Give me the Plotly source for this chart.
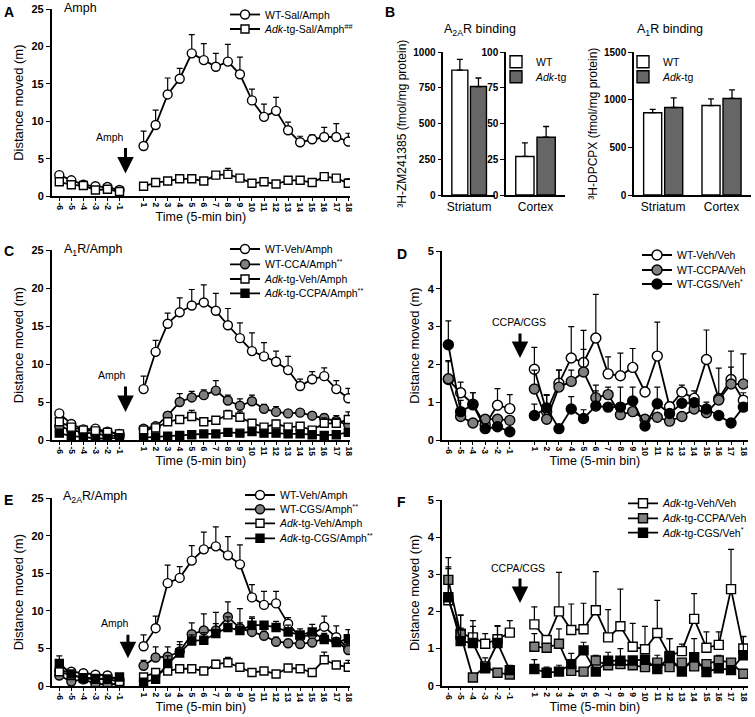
import plotly.graph_objects as go

# ---------------- data ----------------
BINS = [-6, -5, -4, -3, -2, -1, 1, 2, 3, 4, 5, 6, 7, 8, 9, 10, 11, 12, 13, 14, 15, 16, 17, 18]
BIN_LABELS = [str(b) for b in BINS]

# Panel A
A_WT = [2.8, 2.1, 1.5, 1.3, 1.2, 0.8, 6.7, 9.5, 13.6, 15.7, 19.1, 18.2, 17.3, 18.0, 16.3, 12.8, 10.6, 11.4, 8.8, 7.2, 7.6, 7.9, 7.9, 7.3]
A_WT_SEM = [0.3, 0.2, 0.2, 0.2, 0.2, 0.2, 2.0, 2.0, 2.2, 1.4, 2.5, 2.2, 1.8, 2.3, 2.3, 1.5, 1.7, 1.8, 1.1, 0.8, 0.6, 1.3, 1.8, 1.1]
A_TG = [1.9, 1.5, 1.4, 0.8, 0.9, 0.6, 1.3, 1.8, 2.0, 2.3, 2.3, 2.0, 2.8, 2.9, 2.4, 1.7, 1.9, 1.6, 2.1, 2.1, 1.8, 2.6, 2.4, 1.7]
A_TG_SEM = [0.2, 0.2, 0.2, 0.2, 0.2, 0.2, 0.3, 0.3, 0.3, 0.3, 0.3, 0.3, 0.4, 0.8, 0.3, 0.3, 0.3, 0.3, 0.3, 0.3, 0.3, 0.3, 0.3, 0.6]

# Panel B
B_REGIONS = ["Striatum", "Cortex"]
A2A_WT = [875, 27]
A2A_WT_SEM = [75, 9.5]
A2A_TG = [760, 40.5]
A2A_TG_SEM = [60, 7.5]
A1_WT = [865, 940]
A1_WT_SEM = [35, 70]
A1_TG = [920, 1015]
A1_TG_SEM = [100, 90]

# Panel C
C_WT = [3.5, 2.1, 1.4, 1.5, 1.1, 0.8, 6.7, 11.6, 15.3, 16.8, 17.7, 18.1, 17.0, 15.1, 13.4, 11.7, 11.0, 10.3, 9.2, 7.1, 8.0, 8.4, 6.7, 5.5]
C_WT_SEM = [0.3, 0.2, 0.2, 0.2, 0.2, 0.2, 1.7, 1.5, 1.4, 1.9, 2.1, 2.3, 2.3, 2.2, 2.0, 2.4, 1.8, 1.4, 1.8, 0.9, 1.0, 1.1, 1.1, 1.3]
C_CCA = [1.8, 1.3, 1.0, 0.8, 0.6, 0.5, 1.5, 1.8, 3.2, 5.0, 5.6, 5.9, 6.5, 5.2, 4.5, 5.1, 4.1, 3.7, 3.5, 3.6, 3.2, 2.9, 2.5, 2.0]
C_CCA_SEM = [0.3, 0.2, 0.2, 0.2, 0.2, 0.2, 0.3, 0.3, 0.4, 1.1, 0.8, 0.7, 1.3, 0.7, 0.9, 0.8, 0.6, 0.7, 0.3, 0.3, 0.4, 0.5, 0.7, 0.5]
C_TG = [2.4, 1.7, 1.3, 1.2, 1.0, 0.8, 1.3, 1.6, 2.4, 2.7, 3.1, 2.4, 2.6, 3.3, 3.0, 2.2, 1.7, 2.1, 1.7, 1.8, 1.3, 2.2, 2.2, 2.7]
C_TG_SEM = [0.3, 0.2, 0.2, 0.2, 0.2, 0.2, 0.3, 0.3, 0.3, 0.3, 0.8, 0.3, 0.3, 0.6, 0.7, 0.3, 0.3, 0.5, 0.3, 0.3, 0.3, 0.7, 0.6, 1.0]
C_TGCCPA = [0.9, 0.5, 0.4, 0.2, 0.2, 0.3, 0.3, 0.4, 0.5, 0.6, 0.7, 0.8, 0.8, 1.0, 0.9, 1.1, 0.9, 0.9, 0.8, 0.8, 0.7, 0.6, 0.7, 1.0]
C_TGCCPA_SEM = [0.2, 0.2, 0.2, 0.2, 0.2, 0.2, 0.2, 0.2, 0.2, 0.2, 0.2, 0.2, 0.2, 0.2, 0.2, 0.2, 0.2, 0.2, 0.2, 0.2, 0.2, 0.2, 0.2, 0.2]

# Panel D
D_VEH = [1.6, 1.25, 0.95, 0.4, 0.92, 0.83, 1.87, 0.75, 1.5, 2.17, 2.05, 2.7, 1.75, 1.7, 1.92, 1.27, 2.22, 0.88, 1.27, 1.1, 2.13, 1.1, 1.6, 1.05]
D_VEH_SEM = [0.5, 0.28, 0.3, 0.2, 0.44, 0.37, 0.58, 0.45, 0.35, 0.83, 0.85, 1.15, 0.45, 0.6, 0.5, 0.13, 0.9, 0.12, 0.18, 0.2, 0.78, 0.8, 0.75, 0.2]
D_CCPA = [1.62, 0.62, 0.45, 0.55, 0.55, 0.52, 1.35, 0.55, 1.4, 1.55, 1.8, 1.12, 1.2, 0.67, 0.75, 0.55, 0.6, 0.5, 0.62, 0.82, 0.72, 1.06, 1.48, 1.48]
D_CCPA_SEM = [0.45, 0.1, 0.1, 0.1, 0.1, 0.1, 0.5, 0.1, 0.45, 0.3, 0.6, 0.33, 0.2, 0.1, 0.1, 0.1, 0.1, 0.1, 0.1, 0.1, 0.1, 0.15, 0.45, 0.8]
D_CGS = [2.52, 0.75, 0.93, 0.3, 0.35, 0.22, 0.65, 0.85, 0.3, 0.82, 0.57, 0.9, 0.87, 0.87, 1.03, 0.37, 0.96, 0.7, 0.97, 0.99, 0.82, 0.65, 0.45, 0.87]
D_CGS_SEM = [0.63, 0.3, 0.32, 0.1, 0.1, 0.1, 0.3, 0.33, 0.1, 0.33, 0.23, 0.4, 0.1, 0.53, 0.37, 0.1, 0.44, 0.1, 0.1, 0.1, 0.18, 0.1, 0.1, 0.1]

# Panel E
E_WT = [2.0, 1.9, 1.7, 1.5, 1.4, 0.8, 5.3, 7.7, 13.7, 14.4, 16.7, 18.2, 18.6, 17.4, 16.2, 11.8, 10.8, 11.0, 8.3, 6.5, 6.9, 7.9, 6.5, 5.0]
E_WT_SEM = [0.3, 0.2, 0.2, 0.2, 0.2, 0.2, 1.5, 1.6, 2.4, 1.5, 2.0, 2.3, 2.6, 2.5, 2.6, 1.7, 1.8, 1.6, 0.8, 0.6, 0.7, 1.4, 1.5, 0.6]
E_CGS = [1.4, 0.6, 0.9, 0.3, 0.2, 0.3, 2.7, 3.8, 3.9, 4.6, 6.9, 7.4, 7.4, 9.2, 7.7, 7.2, 6.7, 5.9, 5.7, 5.6, 5.8, 6.3, 5.9, 4.8]
E_CGS_SEM = [0.3, 0.2, 0.2, 0.2, 0.2, 0.2, 0.7, 1.4, 1.3, 1.3, 1.5, 2.2, 2.4, 2.0, 2.6, 1.8, 0.6, 0.6, 0.5, 0.5, 0.5, 0.6, 0.5, 0.4]
E_TG = [1.9, 1.4, 1.1, 1.0, 0.9, 0.6, 1.2, 1.8, 2.0, 2.3, 2.3, 2.0, 2.9, 3.1, 2.5, 1.8, 2.0, 1.6, 2.4, 2.3, 1.8, 3.5, 2.8, 2.5]
E_TG_SEM = [0.2, 0.2, 0.2, 0.2, 0.2, 0.2, 0.3, 0.3, 0.3, 0.3, 0.3, 0.3, 0.5, 0.7, 0.3, 0.3, 0.3, 0.3, 0.3, 0.3, 0.3, 1.0, 0.4, 0.9]
E_TGCGS = [3.0, 1.6, 1.0, 0.9, 0.9, 1.2, 0.5, 0.9, 3.0, 4.4, 6.0, 6.1, 7.0, 7.8, 7.4, 8.1, 8.1, 7.8, 7.2, 6.8, 7.2, 6.2, 5.8, 6.3]
E_TGCGS_SEM = [1.0, 0.3, 0.2, 0.2, 0.2, 0.2, 0.3, 0.3, 1.0, 1.1, 0.8, 1.0, 1.3, 1.4, 1.0, 1.1, 0.3, 0.8, 0.9, 0.8, 1.0, 0.8, 0.6, 1.2]

# Panel F
F_VEH = [2.3, 1.4, 1.3, 1.13, 1.25, 1.43, 1.65, 1.23, 2.0, 1.5, 1.52, 2.03, 1.3, 1.6, 1.05, 0.98, 1.42, 0.8, 0.93, 1.8, 1.02, 1.1, 2.6, 1.0]
F_VEH_SEM = [0.85, 0.5, 0.45, 0.27, 0.35, 0.32, 0.47, 0.12, 1.05, 0.7, 0.7, 1.04, 0.75, 1.0, 0.63, 0.62, 0.88, 0.47, 0.19, 0.68, 0.43, 0.35, 1.07, 0.33]
F_CCPA = [2.85, 1.38, 0.22, 0.52, 0.35, 0.3, 1.05, 1.02, 1.13, 0.4, 0.38, 0.68, 0.55, 0.58, 0.55, 0.5, 0.62, 0.5, 0.62, 0.52, 0.58, 0.68, 0.62, 0.32]
F_CCPA_SEM = [0.6, 0.52, 0.05, 0.23, 0.05, 0.05, 0.35, 0.1, 0.4, 0.05, 0.05, 0.14, 0.1, 0.1, 0.1, 0.1, 0.2, 0.1, 0.1, 0.1, 0.1, 0.14, 0.1, 0.05]
F_CGS = [2.38, 1.2, 1.15, 0.47, 1.15, 0.42, 0.45, 0.35, 0.38, 0.58, 0.95, 0.38, 0.67, 0.67, 0.68, 0.7, 0.45, 0.77, 0.38, 0.77, 0.37, 0.47, 0.42, 0.82]
F_CGS_SEM = [0.82, 0.35, 0.45, 0.1, 0.47, 0.13, 0.25, 0.15, 0.17, 0.29, 0.22, 0.1, 0.23, 0.33, 0.1, 0.1, 0.1, 0.5, 0.1, 0.5, 0.1, 0.1, 0.1, 0.5]

# ---------------- helpers ----------------
W, H = 755, 717
FONT = "Liberation Sans, Arial, sans-serif"
GREY = "#808080"
GAP = 0  # empty slot between pre- and post-injection bins
LEGFONT = dict(family=FONT, size=10.5, color="black")


def px_x(p):
    return p / W


def px_y(p):
    return 1 - p / H


# one legend box per legend row so the rows can sit as close as in the original
legends = {}


def legend_row(left, center):
    key = "legend" if not legends else "legend%d" % (len(legends) + 1)
    legends[key] = dict(x=px_x(left), y=min(1.0, px_y(center - 14.5)), xanchor="left", yanchor="top",
                        font=LEGFONT, bgcolor="rgba(0,0,0,0)", borderwidth=0, itemwidth=30)
    return key


def ts(vals, sem, name, symbol, fill, xa, ya, legend, size):
    y = vals[:6] + [None] + vals[6:]
    e = sem[:6] + [0] + sem[6:]
    x = BINS[:6] + [GAP] + BINS[6:]
    return go.Scatter(
        x=x, y=y, mode="lines+markers", name=name, xaxis=xa, yaxis=ya, legend=legend,
        connectgaps=False, showlegend=True,
        line=dict(color="black", width=1.8),
        marker=dict(symbol=symbol, size=size, color=fill, line=dict(color="black", width=1.4)),
        error_y=dict(type="data", symmetric=False, array=e, arrayminus=[0] * len(e),
                     color="black", thickness=1.2, width=3),
    )


fig = go.Figure()

# Panel A
fig.add_trace(ts(A_WT, A_WT_SEM, "WT-Sal/Amph", "circle", "white", "x", "y", legend_row(225, 14.5), 9))
fig.add_trace(ts(A_TG, A_TG_SEM, "<i>Adk</i>-tg-Sal/Amph<sup>##</sup>", "square", "white", "x", "y",
                 legend_row(225, 29), 8))


# Panel B bars
def bar(xv, yv, ev, name, color, xa, ya, legend, show):
    return go.Bar(x=xv, y=yv, name=name, xaxis=xa, yaxis=ya, legend=legend, showlegend=show,
                  marker=dict(color=color, line=dict(color="black", width=1.4)),
                  error_y=dict(type="data", symmetric=False, array=ev, arrayminus=[0] * len(ev),
                               color="black", thickness=1.3, width=3))


LB1 = legend_row(496, 61.7)
LB2 = legend_row(496, 76.7)
LB3 = legend_row(623, 61.7)
LB4 = legend_row(623, 76.7)
fig.add_trace(bar(B_REGIONS[:1], A2A_WT[:1], A2A_WT_SEM[:1], "WT", "white", "x2", "y2", LB1, False))
fig.add_trace(bar(B_REGIONS[:1], A2A_TG[:1], A2A_TG_SEM[:1], "<i>Adk</i>-tg", "#666666", "x2", "y2", LB2, False))
fig.add_trace(bar(B_REGIONS[1:], A2A_WT[1:], A2A_WT_SEM[1:], "WT", "white", "x3", "y3", LB1, True))
fig.add_trace(bar(B_REGIONS[1:], A2A_TG[1:], A2A_TG_SEM[1:], "<i>Adk</i>-tg", "#666666", "x3", "y3", LB2, True))
fig.add_trace(bar(B_REGIONS, A1_WT, A1_WT_SEM, "WT", "white", "x4", "y4", LB3, True))
fig.add_trace(bar(B_REGIONS, A1_TG, A1_TG_SEM, "<i>Adk</i>-tg", "#666666", "x4", "y4", LB4, True))

# Panel C
fig.add_trace(ts(C_WT, C_WT_SEM, "WT-Veh/Amph", "circle", "white", "x5", "y5", legend_row(225, 249), 9))
fig.add_trace(ts(C_CCA, C_CCA_SEM, "WT-CCA/Amph<sup>**</sup>", "circle", GREY, "x5", "y5", legend_row(225, 264.3), 9))
fig.add_trace(ts(C_TG, C_TG_SEM, "<i>Adk</i>-tg-Veh/Amph", "square", "white", "x5", "y5", legend_row(225, 279), 8))
fig.add_trace(ts(C_TGCCPA, C_TGCCPA_SEM, "<i>Adk</i>-tg-CCPA/Amph<sup>**</sup>", "square", "black", "x5", "y5",
                 legend_row(225, 293.3), 8))

# Panel D
fig.add_trace(ts(D_VEH, D_VEH_SEM, "WT-Veh/Veh", "circle", "white", "x6", "y6", legend_row(637, 255), 10))
fig.add_trace(ts(D_CCPA, D_CCPA_SEM, "WT-CCPA/Veh", "circle", GREY, "x6", "y6", legend_row(637, 270), 10))
fig.add_trace(ts(D_CGS, D_CGS_SEM, "WT-CGS/Veh<sup>*</sup>", "circle", "black", "x6", "y6", legend_row(637, 284), 10))

# Panel E
fig.add_trace(ts(E_WT, E_WT_SEM, "WT-Veh/Amph", "circle", "white", "x7", "y7", legend_row(240, 495), 9))
fig.add_trace(ts(E_CGS, E_CGS_SEM, "WT-CGS/Amph<sup>**</sup>", "circle", GREY, "x7", "y7", legend_row(240, 509.3), 9))
fig.add_trace(ts(E_TG, E_TG_SEM, "<i>Adk</i>-tg-Veh/Amph", "square", "white", "x7", "y7", legend_row(240, 523.3), 8))
fig.add_trace(ts(E_TGCGS, E_TGCGS_SEM, "<i>Adk</i>-tg-CGS/Amph<sup>**</sup>", "square", "black", "x7", "y7",
                 legend_row(240, 538.3), 8))

# Panel F
fig.add_trace(ts(F_VEH, F_VEH_SEM, "<i>Adk</i>-tg-Veh/Veh", "square", "white", "x8", "y8", legend_row(623, 503.3), 9))
fig.add_trace(ts(F_CCPA, F_CCPA_SEM, "<i>Adk</i>-tg-CCPA/Veh", "square", GREY, "x8", "y8", legend_row(623, 518.3), 9))
fig.add_trace(ts(F_CGS, F_CGS_SEM, "<i>Adk</i>-tg-CGS/Veh<sup>*</sup>", "square", "black", "x8", "y8",
                 legend_row(623, 532.7), 9))

# ---------------- axes ----------------
TICKFONT = dict(family=FONT, size=11, color="black", weight="bold")
XTICKFONT = dict(family=FONT, size=8.5, color="black", weight="bold")
TITLEFONT = dict(family=FONT, size=13, color="black")


def time_x(domain, rng):
    return dict(domain=domain, range=rng, showline=True, linecolor="black", linewidth=1.5,
                ticks="outside", ticklen=3, tickwidth=1.2, tickcolor="black",
                tickvals=BINS, ticktext=BIN_LABELS, tickangle=90, tickfont=XTICKFONT,
                showgrid=False, zeroline=False, automargin=False,
                title=dict(text="Time (5-min bin)", font=dict(family=FONT, size=12.5, color="black"), standoff=1))


def val_y(domain, rng, dtick, title=None, standoff=5, anchor=None):
    d = dict(domain=domain, range=rng, dtick=dtick, showline=True, linecolor="black", linewidth=1.5,
             ticks="outside", ticklen=4, tickwidth=1.3, tickcolor="black", tickfont=TICKFONT,
             showgrid=False, zeroline=False, automargin=False)
    if title:
        d["title"] = dict(text=title, font=TITLEFONT, standoff=standoff)
    if anchor:
        d["anchor"] = anchor
    return d


LEFT_DOM = [px_x(51.7), px_x(350)]
RIGHT_DOM = [px_x(441.7), px_x(748)]
LEFT_RNG = [-6.63, 18.14]
RIGHT_RNG = [-6.54, 18.38]

layout_axes = {}
# A
layout_axes["xaxis"] = dict(time_x(LEFT_DOM, LEFT_RNG), anchor="y")
layout_axes["yaxis"] = val_y([px_y(196), px_y(9.3)], [0, 25], 5, "Distance moved (m)", anchor="x")
# C
layout_axes["xaxis5"] = dict(time_x(LEFT_DOM, LEFT_RNG), anchor="y5")
layout_axes["yaxis5"] = val_y([px_y(440), px_y(250)], [0, 25], 5, "Distance moved (m)", anchor="x5")
# D
layout_axes["xaxis6"] = dict(time_x(RIGHT_DOM, RIGHT_RNG), anchor="y6")
layout_axes["yaxis6"] = val_y([px_y(440), px_y(251)], [0, 5], 1, "Distance moved (m)", anchor="x6")
# E
layout_axes["xaxis7"] = dict(time_x(LEFT_DOM, LEFT_RNG), anchor="y7")
layout_axes["yaxis7"] = val_y([px_y(686), px_y(498.3)], [0, 25], 5, "Distance moved (m)", anchor="x7")
# F
layout_axes["xaxis8"] = dict(time_x(RIGHT_DOM, RIGHT_RNG), anchor="y8")
layout_axes["yaxis8"] = val_y([px_y(685.7), px_y(500)], [0, 5], 1, "Distance moved (m)", anchor="x8")


def bar_x(domain, anchor):
    return dict(domain=domain, anchor=anchor, showline=True, linecolor="black", linewidth=1.5,
                ticks="", tickfont=dict(family=FONT, size=12, color="black"),
                showgrid=False, zeroline=False, automargin=False, type="category")


B_YDOM = [px_y(195), px_y(52.3)]
layout_axes["xaxis2"] = bar_x([px_x(443.3), px_x(495)], "y2")
layout_axes["yaxis2"] = val_y(B_YDOM, [0, 1000], 250,
                              "\u00b3H-ZM241385 (fmol/mg protein)", standoff=4, anchor="x2")
layout_axes["yaxis2"]["tickfont"] = dict(TICKFONT, size=10)
layout_axes["yaxis2"]["title"]["font"] = dict(family=FONT, size=12, color="black")
layout_axes["xaxis3"] = bar_x([px_x(506), px_x(565)], "y3")
layout_axes["yaxis3"] = val_y(B_YDOM, [0, 100], 25, anchor="x3")
layout_axes["yaxis3"]["tickfont"] = dict(TICKFONT, size=10)
layout_axes["xaxis4"] = bar_x([px_x(634), px_x(750.7)], "y4")
layout_axes["yaxis4"] = val_y(B_YDOM, [0, 1500], 500,
                              "\u00b3H-DPCPX (fmol/mg protein)", standoff=4, anchor="x4")
layout_axes["yaxis4"]["tickfont"] = dict(TICKFONT, size=10)
layout_axes["yaxis4"]["title"]["font"] = dict(family=FONT, size=12, color="black")

fig.update_layout(
    width=W, height=H, margin=dict(l=0, r=0, t=0, b=0),
    paper_bgcolor="white", plot_bgcolor="white",
    font=dict(family=FONT, color="black"),
    showlegend=True,
    barmode="group", bargap=0.28, bargroupgap=0.14,
    **legends,
    **layout_axes,
)

# ---------------- annotations ----------------
ann = []
LETTER = dict(family=FONT, size=14, color="black", weight="bold")
for letter, lx, ly in [("A", 2, 2), ("B", 383, 2), ("C", 2, 241), ("D", 395, 244), ("E", 2, 490), ("F", 395, 492)]:
    ann.append(dict(text=letter, x=px_x(lx), y=px_y(ly), xref="paper", yref="paper",
                    xanchor="left", yanchor="top", showarrow=False, font=LETTER))

LBL = dict(family=FONT, size=12.5, color="black")
for txt, cx, cy in [("Amph", 80, 8), ("A<sub>1</sub>R/Amph", 93, 250), ("A<sub>2A</sub>R/Amph", 95, 497),
                    ("A<sub>2A</sub>R binding", 480, 30), ("A<sub>1</sub>R binding", 670, 30)]:
    ann.append(dict(text=txt, x=px_x(cx), y=px_y(cy), xref="paper", yref="paper",
                    xanchor="center", yanchor="middle", showarrow=False, font=LBL))

# injection arrows (tip position in data units) and their labels
SM = dict(family=FONT, size=10.5, color="black")
for xa, ya, ax_x, tip, length, label, lx, ly in [
    ("x", "y", -0.5, 3.0, 27, "Amph", -1.8, 7.9),
    ("x5", "y5", -0.5, 3.7, 27, "Amph", -1.6, 8.55),
    ("x7", "y7", -0.3, 3.7, 25, "Amph", -1.4, 8.4),
    ("x6", "y6", -0.17, 2.17, 26, "CCPA/CGS", -0.25, 3.13),
    ("x8", "y8", -0.17, 2.23, 26, "CCPA/CGS", -0.3, 3.16),
]:
    ann.append(dict(x=ax_x, y=tip, xref=xa, yref=ya, ax=0, ay=-length, text="",
                    showarrow=True, arrowhead=2, arrowsize=1.1, arrowwidth=3, arrowcolor="black",
                    standoff=0))
    ann.append(dict(x=lx, y=ly, xref=xa, yref=ya, text=label, font=SM, showarrow=False,
                    xanchor="center", yanchor="middle"))

fig.update_layout(annotations=ann)
# remove the browser's default 8px page margin so the figure sits at the window origin
fig.write_html("out.html", config={"displayModeBar": False},
               post_script="document.body.style.margin='0px';")
